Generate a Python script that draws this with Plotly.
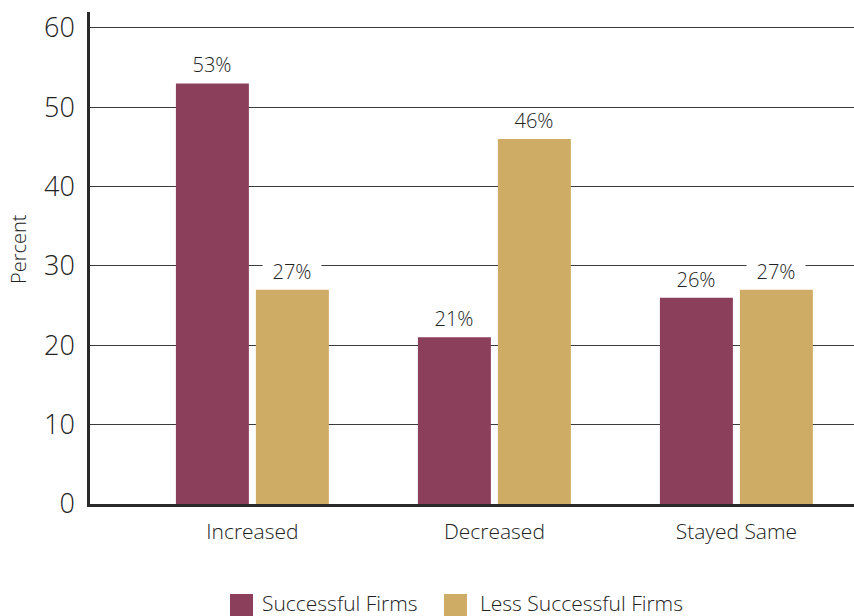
import plotly.graph_objects as go

categories = ["Increased", "Decreased", "Stayed Same"]
series_names = ["Successful Firms", "Less Successful Firms"]
successful = [53, 21, 26]
less_successful = [27, 46, 27]
y_ticks = [0, 10, 20, 30, 40, 50, 60]

colors = ["#8C3F5B", "#CFAC66"]
FONT = "'Open Sans', 'Noto Sans', sans-serif"
TXT = "#222222"

fig = go.Figure()
for name, vals, col in zip(series_names, [successful, less_successful], colors):
    fig.add_trace(go.Bar(x=categories, y=vals, name=name, marker_color=col,
                         marker_line_width=0, showlegend=False))

# value labels with white background (interrupting gridlines)
for shift, vals in zip([-40, 40], [successful, less_successful]):
    for c, v in zip(categories, vals):
        fig.add_annotation(x=c, y=v, xref="x", yref="y", text=f"{v}%",
                           showarrow=False, xshift=shift, yshift=19,
                           yanchor="middle", bgcolor="white", width=58, height=18,
                           borderpad=0, font=dict(family=FONT, size=20, color=TXT, weight=300))

# manual legend
L = 90.0; W = 764.0; B = 504.0; H = 492.0
def px(x): return (x - L) / W
def py(y): return (B - y) / H
for sx, tx, name, col in [(230, 260, series_names[0], colors[0]),
                          (444, 478, series_names[1], colors[1])]:
    fig.add_shape(type="rect", xref="paper", yref="paper",
                  x0=px(sx), x1=px(sx + 23), y0=py(617), y1=py(594),
                  fillcolor=col, line_width=0)
    fig.add_annotation(xref="paper", yref="paper", x=px(tx), y=py(603),
                       xanchor="left", yanchor="middle", text=name, showarrow=False,
                       font=dict(family=FONT, size=21, color=TXT, weight=300))

# y-axis title
fig.add_annotation(xref="paper", yref="paper", x=px(18), y=py(249), text="Percent",
                   textangle=-90, showarrow=False, xanchor="center", yanchor="middle",
                   font=dict(family=FONT, size=20, color=TXT, weight=300))

fig.update_layout(
    width=854, height=616,
    margin=dict(l=90, r=0, t=12, b=112),
    paper_bgcolor="white", plot_bgcolor="white",
    barmode="group", bargap=0.339, bargroupgap=0.0875,
    showlegend=False,
    font=dict(family=FONT, color=TXT),
)
fig.update_xaxes(type="category", range=[-0.671, 2.486], showline=True,
                 linecolor="#2a2a2a", linewidth=2.5, showgrid=False, ticks="",
                 ticklabelstandoff=7, tickfont=dict(family=FONT, size=21, color=TXT, weight=300))
fig.update_yaxes(range=[0, 62], tickvals=y_ticks, showline=True, linecolor="#2a2a2a",
                 linewidth=2.5, showgrid=True, gridcolor="#3a3a3a", gridwidth=1.3,
                 zeroline=False, ticks="", ticklabelstandoff=7,
                 tickfont=dict(family=FONT, size=27, color=TXT, weight=300))

fig.write_html("out.html")
